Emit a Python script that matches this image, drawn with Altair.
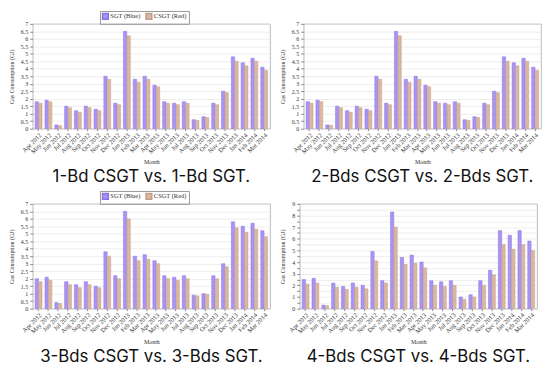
import altair as alt
import pandas as pd

months = ["Apr 2012", "May 2012", "Jun 2012", "Jul 2012", "Aug 2012", "Sep 2012",
          "Oct 2012", "Nov 2012", "Dec 2012", "Jan 2013", "Feb 2013", "Mar 2013",
          "Apr 2013", "May 2013", "Jun 2013", "Jul 2013", "Aug 2013", "Sep 2013",
          "Oct 2013", "Nov 2013", "Dec 2013", "Jan 2014", "Feb 2014", "Mar 2014"]

sgt_1bd = [1.8, 1.9, 0.25, 1.5, 1.2, 1.5, 1.3, 3.5, 1.7, 6.5, 3.3, 3.5,
           2.9, 1.8, 1.7, 1.8, 0.6, 0.8, 1.7, 2.5, 4.8, 4.4, 4.7, 4.1]
csgt_1bd = [1.7, 1.8, 0.2, 1.4, 1.1, 1.4, 1.2, 3.3, 1.6, 6.2, 3.1, 3.3,
            2.8, 1.7, 1.6, 1.7, 0.55, 0.75, 1.6, 2.4, 4.5, 4.2, 4.5, 3.9]

sgt_2bd = [1.8, 1.9, 0.25, 1.5, 1.2, 1.5, 1.3, 3.5, 1.7, 6.5, 3.3, 3.5,
           2.9, 1.8, 1.7, 1.8, 0.6, 0.8, 1.7, 2.5, 4.8, 4.4, 4.7, 4.1]
csgt_2bd = [1.7, 1.8, 0.22, 1.4, 1.1, 1.4, 1.2, 3.3, 1.6, 6.2, 3.1, 3.3,
            2.8, 1.7, 1.6, 1.7, 0.55, 0.75, 1.6, 2.4, 4.5, 4.2, 4.5, 3.9]

sgt_3bd = [2.0, 2.1, 0.4, 1.8, 1.6, 1.8, 1.5, 3.8, 2.2, 6.5, 3.5, 3.6,
           3.2, 2.2, 2.1, 2.2, 0.9, 1.0, 2.2, 3.0, 5.8, 5.5, 5.7, 5.2]
csgt_3bd = [1.8, 1.9, 0.35, 1.6, 1.4, 1.6, 1.4, 3.5, 2.0, 6.0, 3.2, 3.3,
            3.0, 2.0, 1.9, 2.0, 0.85, 0.95, 2.0, 2.8, 5.4, 5.1, 5.3, 4.8]

sgt_4bd = [2.5, 2.6, 0.3, 2.2, 1.9, 2.2, 2.0, 4.9, 2.4, 8.3, 4.4, 4.6,
           4.0, 2.4, 2.3, 2.4, 1.0, 1.2, 2.4, 3.3, 6.7, 6.3, 6.7, 5.8]
csgt_4bd = [2.1, 2.2, 0.25, 1.85, 1.65, 1.85, 1.7, 4.1, 2.2, 7.0, 3.8, 3.9,
            3.5, 2.0, 1.9, 2.0, 0.8, 1.0, 2.0, 2.9, 5.5, 5.1, 5.5, 5.0]

series = ["SGT (Blue)", "CSGT (Red)"]
fill_colors = ["#a994f3", "#dbb7a0"]
edge_colors = ["#8a72e4", "#c29e88"]

SERIF = "Liberation Serif"


def panel(sgt, csgt, caption, ymax):
    df = pd.DataFrame({
        "Month": months * 2,
        "Value": sgt + csgt,
        "Series": [series[0]] * len(months) + [series[1]] * len(months),
    })
    ticks = [i * 0.5 for i in range(int(ymax * 2) + 1)]
    return alt.Chart(df).mark_bar(strokeWidth=0.5).encode(
        x=alt.X("Month:N", sort=months,
                scale=alt.Scale(paddingInner=0.3, paddingOuter=0.25),
                axis=alt.Axis(title="Month", labelAngle=315, labelFont=SERIF,
                              labelFontSize=6.5, titleFont=SERIF, titleFontSize=6,
                              titleFontWeight="normal", labelPadding=1,
                              tickSize=2, titlePadding=4, domain=False,
                              labelColor="#333", titleColor="#333")),
        xOffset=alt.XOffset("Series:N", sort=series,
                            scale=alt.Scale(paddingInner=0.05)),
        y=alt.Y("Value:Q", scale=alt.Scale(domain=[0, ymax], nice=False),
                axis=alt.Axis(title="Gas Consumption (GJ)", values=ticks,
                              format="~g", labelFont=SERIF, labelFontSize=6,
                              titleFont=SERIF, titleFontSize=6,
                              titleFontWeight="normal", tickSize=3,
                              labelPadding=2, titlePadding=6, domain=False,
                              labelColor="#333", titleColor="#333")),
        color=alt.Color("Series:N", sort=series,
                        scale=alt.Scale(domain=series, range=fill_colors),
                        legend=alt.Legend(title=None, orient="none",
                                          legendX=68, legendY=-13,
                                          direction="horizontal",
                                          symbolType="square", symbolSize=34,
                                          labelFont=SERIF, labelFontSize=6.5,
                                          labelColor="#333",
                                          strokeColor="#999", padding=1.5,
                                          columnPadding=2, labelOffset=1)),
        stroke=alt.Stroke("Series:N", sort=series,
                          scale=alt.Scale(domain=series, range=edge_colors),
                          legend=None),
    ).properties(
        width=240, height=106,
        title=alt.TitleParams(caption, orient="bottom", font="Inter",
                              fontSize=17, fontWeight="normal", color="#111",
                              offset=5),
    )


p1 = panel(sgt_1bd, csgt_1bd, "1-Bd CSGT vs. 1-Bd SGT.", 7)
p2 = panel(sgt_2bd, csgt_2bd, "2-Bds CSGT vs. 2-Bds SGT.", 7)
p3 = panel(sgt_3bd, csgt_3bd, "3-Bds CSGT vs. 3-Bds SGT.", 7)
p4 = panel(sgt_4bd, csgt_4bd, "4-Bds CSGT vs. 4-Bds SGT.", 9)

row1 = alt.hconcat(p1, p2, spacing=8)
row2 = alt.hconcat(p3, p4, spacing=8)
chart = alt.vconcat(row1, row2, spacing=4).resolve_scale(
    color="independent", stroke="independent"
).resolve_legend(color="independent").properties(padding=0).configure_view(
    stroke="#aaa", strokeWidth=0.8
).configure_axis(gridColor="#e2e2e2", gridWidth=0.6, tickColor="#888")

chart.save("out.html", embed_options={"renderer": "svg", "actions": False})
